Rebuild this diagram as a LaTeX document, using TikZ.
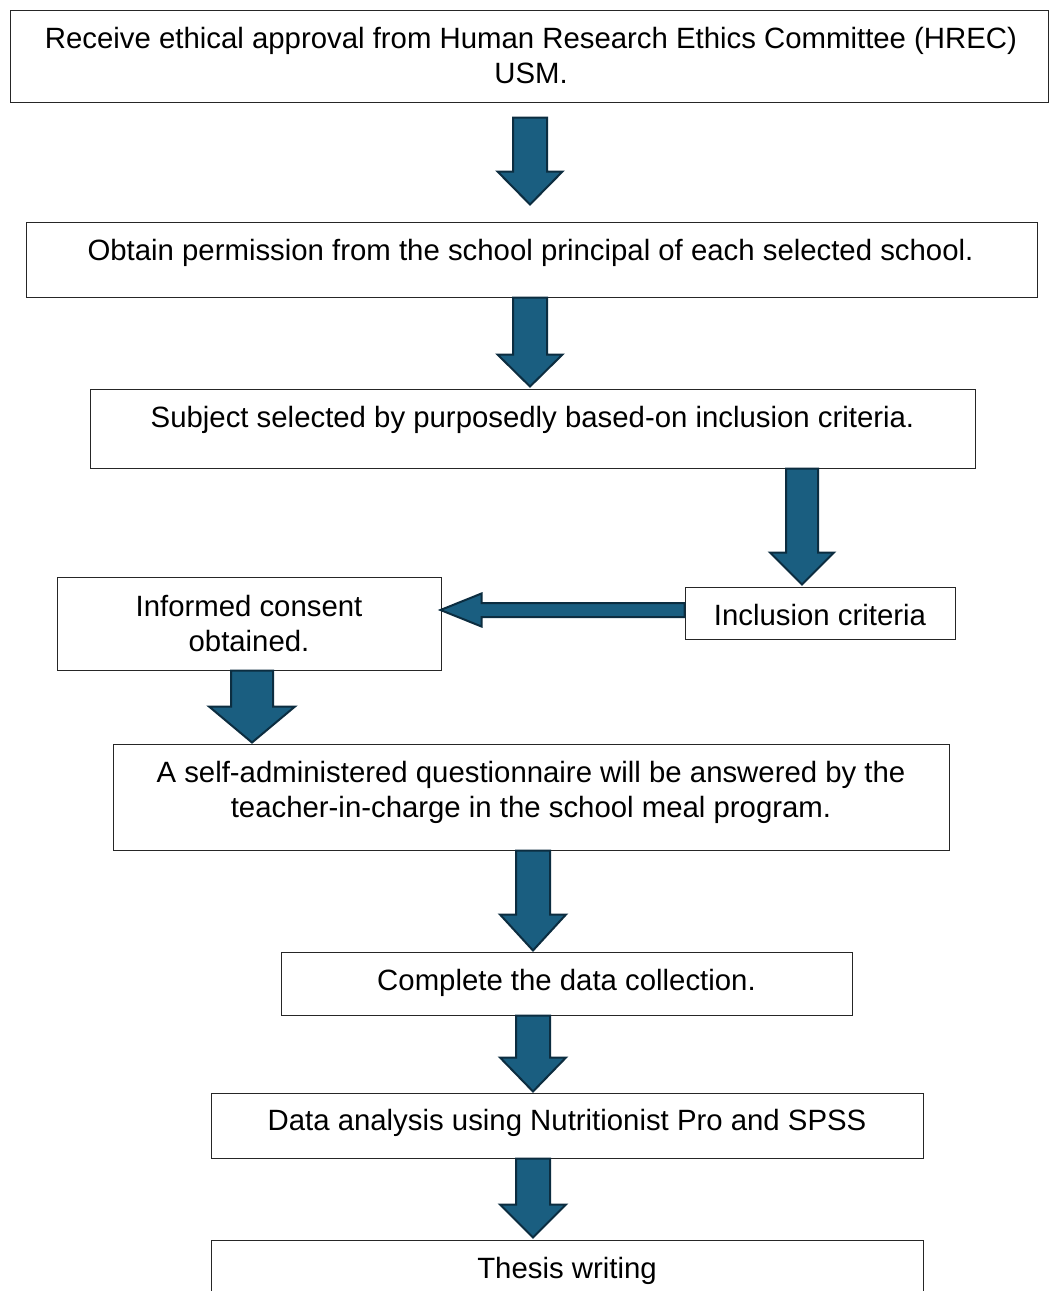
\documentclass[tikz,border=0pt]{standalone}
\usepackage{fontspec}
\setmainfont{Liberation Sans}
\usetikzlibrary{calc}
\definecolor{arrowfill}{RGB}{26,94,128}
\definecolor{arrowline}{RGB}{12,45,64}
\tikzset{
  shafthw/.store in=\shafthw, headhw/.store in=\headhw, headlen/.store in=\headlen,
  shafthw=17pt, headhw=33pt, headlen=33pt,
  box/.style={draw=black!85, line width=1pt, inner sep=0pt, rectangle},
  txt/.style={inner sep=0pt, anchor=base, font=\fontsize{29.35}{35}\selectfont},
  blockdown/.style={fill=arrowfill, draw=arrowline, line width=2pt, line join=miter,
    to path={let \p1=(\tikztostart), \p2=(\tikztotarget) in
      (\x1-\shafthw,\y1) -- (\x1+\shafthw,\y1) -- (\x1+\shafthw,\y2+\headlen)
      -- (\x1+\headhw,\y2+\headlen) -- (\x1,\y2) -- (\x1-\headhw,\y2+\headlen)
      -- (\x1-\shafthw,\y2+\headlen) -- cycle}},
  blockleft/.style={fill=arrowfill, draw=arrowline, line width=2pt, line join=miter,
    to path={let \p1=(\tikztostart), \p2=(\tikztotarget) in
      (\x1,\y1+\shafthw) -- (\x2+\headlen,\y1+\shafthw) -- (\x2+\headlen,\y1+\headhw)
      -- (\x2,\y1) -- (\x2+\headlen,\y1-\headhw) -- (\x2+\headlen,\y1-\shafthw)
      -- (\x1,\y1-\shafthw) -- cycle}},
}
\begin{document}
\begin{tikzpicture}[x=1pt,y=-1pt]
\useasboundingbox[fill=white] (0,0) rectangle (1049,1291);
% boxes
\node[box, minimum width=1038pt, minimum height=92pt] (b1) at (529,56) {};
\node[box, minimum width=1011pt, minimum height=75pt] (b2) at (531.5,259.5) {};
\node[box, minimum width=885pt, minimum height=79pt] (b3) at (532.5,428.5) {};
\node[box, minimum width=270pt, minimum height=52pt] (inc) at (820,613) {};
\node[box, minimum width=384pt, minimum height=93pt] (cons) at (249,623.5) {};
\node[box, minimum width=836pt, minimum height=106pt] (q) at (531,797) {};
\node[box, minimum width=571pt, minimum height=63pt] (comp) at (566.5,983.5) {};
\node[box, minimum width=712pt, minimum height=65pt] (data) at (567,1125.5) {};
\node[box, minimum width=712pt, minimum height=80pt] (thesis) at (567,1280) {};
% texts
\node[txt] (t1) at ([xshift=2pt,yshift=-39pt]b1.north) {\begin{tabular}[t]{@{}c@{}}Receive ethical approval from Human Research Ethics Committee (HREC)\\USM.\end{tabular}};
\node[txt] (t2) at ([xshift=-1pt,yshift=-39pt]b2.north) {Obtain permission from the school principal of each selected school.};
\node[txt] (t3) at ([yshift=-39pt]b3.north) {Subject selected by purposedly based-on inclusion criteria.};
\node[txt] (tinc) at ([yshift=-39pt]inc.north) {Inclusion criteria};
\node[txt] (tcons) at ([yshift=-40pt]cons.north) {\begin{tabular}[t]{@{}c@{}}Informed consent\\obtained.\end{tabular}};
\node[txt] (tq) at ([yshift=-39pt]q.north) {\begin{tabular}[t]{@{}c@{}}A self-administered questionnaire will be answered by the\\teacher-in-charge in the school meal program.\end{tabular}};
\node[txt] (tcomp) at ([yshift=-39pt]comp.north) {Complete the data collection.};
\node[txt] (tdata) at ([yshift=-38pt]data.north) {Data analysis using Nutritionist Pro and SPSS};
\node[txt] (tthesis) at ([yshift=-39pt]thesis.north) {Thesis writing};
% arrows
\draw[blockdown, shafthw=17pt, headhw=32.5pt, headlen=33pt] ([xshift=1pt,yshift=-15pt]b1.south) to ([yshift=17pt]b2.north);
\draw[blockdown, shafthw=17pt, headhw=32.5pt, headlen=32pt] ([xshift=-1.5pt]b2.south) to ([yshift=2pt]b3.north);
\draw[blockdown, shafthw=16pt, headhw=32pt, headlen=32pt] ([xshift=269.5pt]b3.south) to ([yshift=2pt]inc.north);
\draw[blockleft, shafthw=7pt, headhw=16.5pt, headlen=41pt] ([yshift=3pt]inc.west) to ([xshift=-1pt]cons.east);
\draw[blockdown, shafthw=21pt, headhw=43pt, headlen=36pt] ([xshift=3pt]cons.south) to ([yshift=1pt]q.north);
\draw[blockdown, shafthw=17pt, headhw=33pt, headlen=36pt] ([xshift=2pt]q.south) to ([yshift=1pt]comp.north);
\draw[blockdown, shafthw=17pt, headhw=33pt, headlen=34pt] ([xshift=-33.5pt]comp.south) to ([yshift=1pt]data.north);
\draw[blockdown, shafthw=17pt, headhw=33pt, headlen=33pt] ([xshift=-34pt]data.south) to ([yshift=2pt]thesis.north);
\end{tikzpicture}
\end{document}
